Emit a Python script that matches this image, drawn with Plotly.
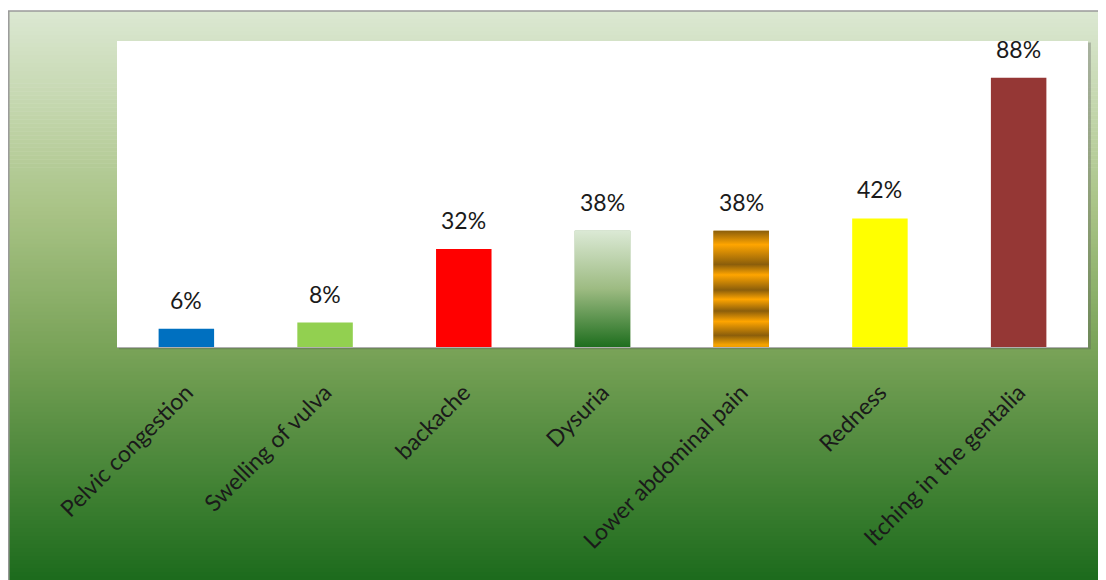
import plotly.graph_objects as go

categories = ["Pelvic congestion", "Swelling of vulva", "backache", "Dysuria",
              "Lower abdominal pain", "Redness", "Itching in the gentalia"]
values = [6, 8, 32, 38, 38, 42, 88]
bar_colors = ["#0070c0", "#92d050", "#ff0000", "#5e8f45", "#c8860a", "#ffff00", "#953735"]
label_texts = [f"{v}%" for v in values]

# page body has an 8px margin, so the figure is sized to fill the rest of the 1106x580 window
W, H = 1098, 572
L, R, T, B = 109, 18, 33, 233
PW, PH = W - L - R, H - T - B
BAR_W = 0.4
FONT = "Lato, 'Open Sans', sans-serif"

xs = list(range(len(categories)))

fig = go.Figure()
fig.add_trace(go.Bar(x=xs, y=values, width=BAR_W, marker=dict(color=bar_colors, line=dict(width=0)),
                     hoverinfo="x+y", showlegend=False))

# gradient bars (Dysuria, Lower abdominal pain)
grad_scales = {
    3: [[0, "#1e6e1e"], [0.5, "#9dbb82"], [1, "#dbe9d5"]],
    4: [[0.0, "#f0a000"], [0.02, "#f5a300"], [0.10, "#8b5e0b"], [0.22, "#ffa500"], [0.31, "#8b5e0b"],
        [0.41, "#ffa500"], [0.49, "#8b5e0b"], [0.62, "#ffa500"], [0.71, "#8b5e0b"],
        [0.88, "#ffa500"], [1.0, "#8b5e0b"]],
}
for i, cs in grad_scales.items():
    x0, x1 = xs[i] - BAR_W / 2, xs[i] + BAR_W / 2
    fig.add_trace(go.Scatter(x=[x0, x1, x1, x0, x0], y=[0, 0, values[i], values[i], 0],
                             mode="lines", line=dict(width=0), fill="toself",
                             fillgradient=dict(type="vertical", colorscale=cs),
                             hoverinfo="skip", showlegend=False))

# data labels
for x, v, t in zip(xs, values, label_texts):
    fig.add_annotation(x=x, y=v, text=t, showarrow=False, yanchor="bottom", yshift=13,
                       font=dict(family=FONT, size=23, color="#1a1a1a"))

# background gradient frame (paper coords)
def px_to_paper_x(px):
    return (px - L) / PW

def px_to_paper_y(py):
    return (H - B - py) / PH

bg_stops = [(0.0, (0xdc, 0xe8, 0xd2)), (0.35, (0xa9, 0xc3, 0x86)), (0.6, (0x78, 0xa2, 0x57)),
            (1.0, (0x1c, 0x6b, 0x1c))]

def interp(f):
    for (f0, c0), (f1, c1) in zip(bg_stops[:-1], bg_stops[1:]):
        if f0 <= f <= f1:
            t = (f - f0) / (f1 - f0)
            return "rgb(%d,%d,%d)" % tuple(round(a + (b - a) * t) for a, b in zip(c0, c1))
    return "rgb(%d,%d,%d)" % bg_stops[-1][1]

top_px, bot_px, left_px = 3, H, 0
n = 142
step = (bot_px - top_px) / n
shapes = []
for k in range(n):
    y0p = top_px + k * step
    y1p = y0p + step + 0.6
    shapes.append(dict(type="rect", xref="paper", yref="paper", layer="below",
                       x0=px_to_paper_x(left_px), x1=px_to_paper_x(W + 2),
                       y0=px_to_paper_y(y1p), y1=px_to_paper_y(y0p),
                       fillcolor=interp((k + 0.5) / n), line=dict(width=0)))
# frame edges
shapes.append(dict(type="line", xref="paper", yref="paper", layer="below",
                   x0=px_to_paper_x(left_px), x1=px_to_paper_x(W + 2),
                   y0=px_to_paper_y(top_px), y1=px_to_paper_y(top_px),
                   line=dict(color="#9a9a9a", width=1.5)))
shapes.append(dict(type="line", xref="paper", yref="paper", layer="below",
                   x0=px_to_paper_x(left_px + 0.8), x1=px_to_paper_x(left_px + 0.8),
                   y0=px_to_paper_y(top_px), y1=px_to_paper_y(H + 2),
                   line=dict(color="#9a9a9a", width=1.5)))
# plot-area shadow + white plot area
shapes.append(dict(type="rect", xref="paper", yref="paper", layer="below",
                   x0=0.002, x1=1.003, y0=-0.007, y1=0.995,
                   fillcolor="rgba(90,90,90,0.35)", line=dict(width=0)))
shapes.append(dict(type="rect", xref="paper", yref="paper", layer="below",
                   x0=0, x1=1, y0=0, y1=1, fillcolor="white", line=dict(width=0)))

fig.update_layout(
    width=W, height=H, autosize=False,
    margin=dict(l=L, r=R, t=T, b=B),
    paper_bgcolor="white", plot_bgcolor="white",
    shapes=shapes, bargap=0.6,
    font=dict(family=FONT, color="#1a1a1a"),
    xaxis=dict(tickmode="array", tickvals=xs, ticktext=categories, range=[-0.5, len(xs) - 0.5],
               tickangle=-45, ticks="", showgrid=False, zeroline=False,
               showline=True, linecolor="#b0b0b0", linewidth=1,
               tickfont=dict(family=FONT, size=23, color="#1a1a1a"), ticklabelstandoff=22),
    yaxis=dict(range=[0, 100], showticklabels=False, showgrid=False, zeroline=False,
               showline=False, ticks=""),
)

fig.write_html("out.html")
